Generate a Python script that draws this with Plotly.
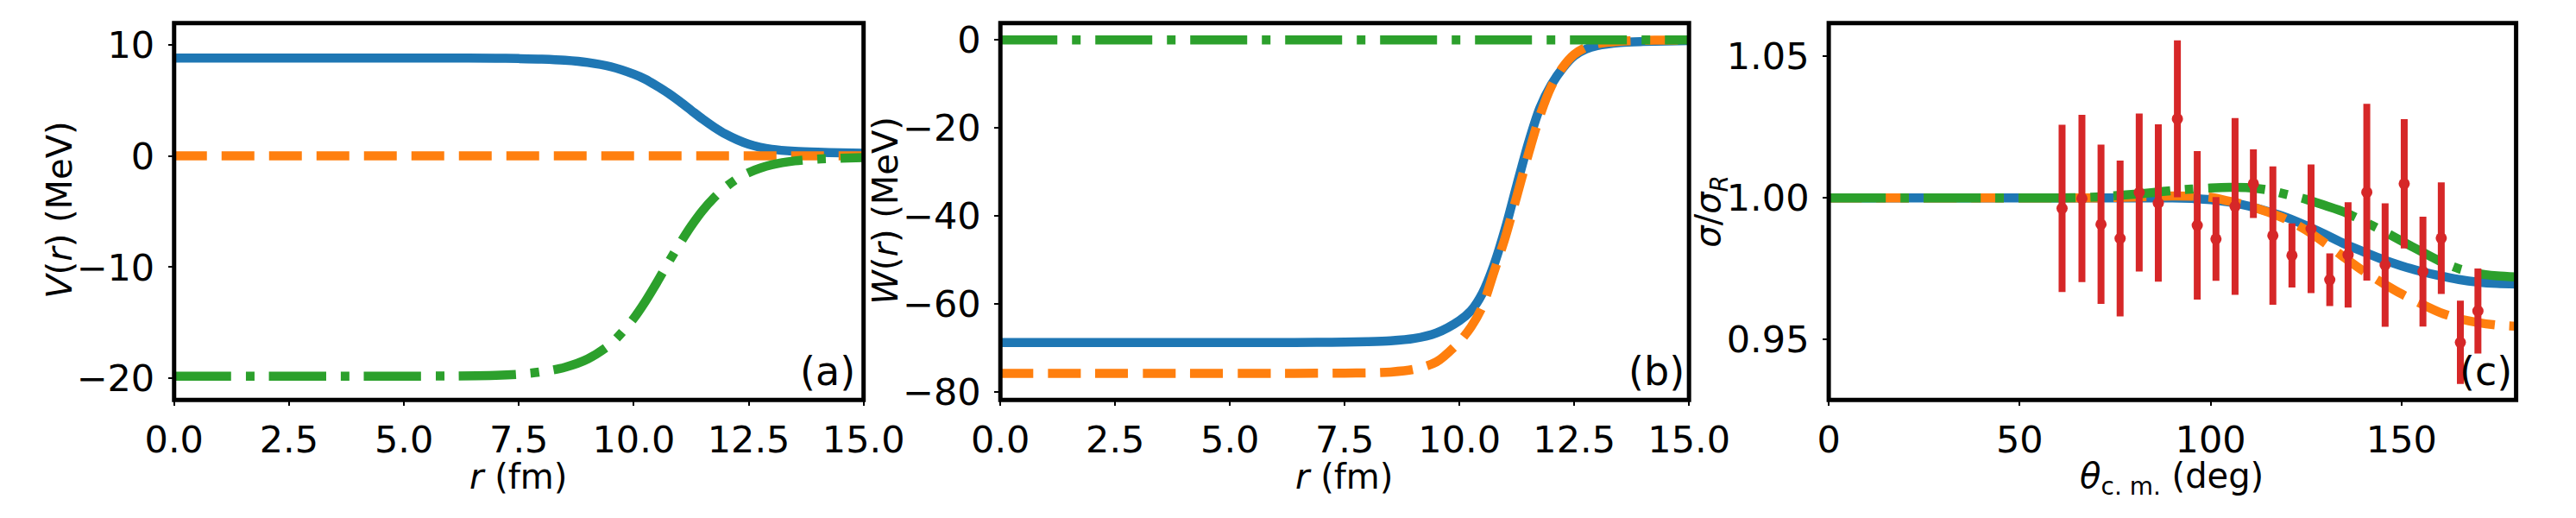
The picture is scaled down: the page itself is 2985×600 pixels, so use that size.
import plotly.graph_objects as go

# ---------------- data ----------------
r_grid = [0, 2, 4, 6, 7, 7.5, 8, 8.5, 9, 9.5, 10, 10.25, 10.5, 10.75, 11, 11.25,
          11.5, 11.75, 12, 12.25, 12.5, 12.75, 13, 13.5, 14, 14.5, 15]
r_flat = [0, 15]

# panel (a): V(r)
V_blue = [8.80, 8.80, 8.80, 8.80, 8.78, 8.75, 8.70, 8.60, 8.40, 8.02, 7.35, 6.90,
          6.30, 5.65, 4.90, 4.10, 3.30, 2.58, 1.95, 1.45, 1.05, 0.78, 0.60, 0.42,
          0.33, 0.28, 0.25]
V_orange = [0.0, 0.0]
V_green = [-19.80, -19.80, -19.80, -19.78, -19.72, -19.62, -19.40, -19.00, -18.25,
           -16.90, -14.60, -13.10, -11.40, -9.60, -7.90, -6.30, -4.90, -3.75, -2.80,
           -2.05, -1.50, -1.10, -0.80, -0.45, -0.28, -0.20, -0.15]

# panel (b): W(r)
W_blue = [-68.8, -68.8, -68.8, -68.8, -68.75, -68.7, -68.6, -68.4, -67.9, -66.6,
          -63.8, -61.6, -57.6, -51.2, -42.8, -33.0, -23.5, -15.5, -10.2, -6.4, -3.6,
          -2.1, -1.3, -0.6, -0.35, -0.22, -0.15]
W_orange = [-75.8, -75.8, -75.8, -75.8, -75.78, -75.75, -75.7, -75.5, -74.9, -73.2,
            -68.6, -65.3, -60.6, -52.8, -44.8, -35.5, -26.0, -17.3, -10.6, -6.2,
            -3.3, -1.7, -0.9, -0.3, -0.1, -0.05, 0.0]
W_green = [0.0, 0.0]

# panel (c): sigma / sigma_R
theta_grid = [0, 20, 40, 60, 70, 80, 85, 90, 95, 100, 105, 110, 115, 120, 125, 130,
              135, 140, 145, 150, 155, 160, 165, 170, 175, 180]
S_blue = [1.0, 1.0, 1.0, 1.0, 1.0, 1.0, 1.0, 1.0, 0.9998, 0.9994, 0.9985, 0.9971,
          0.9952, 0.9930, 0.9902, 0.9871, 0.9838, 0.9810, 0.9783, 0.9760, 0.9741,
          0.9725, 0.9712, 0.9703, 0.9698, 0.9696]
S_orange = [1.0, 1.0, 1.0, 1.0, 1.0, 1.0003, 1.0005, 1.0007, 1.0006, 1.0002, 0.9988,
            0.9972, 0.9950, 0.9923, 0.9886, 0.9840, 0.9790, 0.9742, 0.9700, 0.9661,
            0.9627, 0.9596, 0.9574, 0.9560, 0.9551, 0.9547]
S_green = [1.0, 1.0, 1.0, 1.0, 1.0003, 1.0013, 1.0019, 1.0026, 1.0031, 1.0035,
           1.0037, 1.0036, 1.0028, 1.0012, 0.9995, 0.9973, 0.9950, 0.9918, 0.9884,
           0.9848, 0.9812, 0.9777, 0.9750, 0.9733, 0.9725, 0.9721]

theta_exp = [61.1, 66.3, 71.3, 76.3, 81.3, 86.3, 91.3, 96.5, 101.4, 106.4, 111.2,
             116.3, 121.3, 126.3, 131.2, 136.0, 140.9, 145.7, 150.7, 155.6, 160.4,
             165.4, 170.0]
ratio_exp = [0.9963, 0.9998, 0.9907, 0.9857, 1.0019, 0.9982, 1.0279, 0.9903, 0.9855,
             0.9970, 1.0050, 0.9867, 0.9797, 0.9891, 0.9711, 0.9799, 1.0020, 0.9763,
             1.0050, 0.9740, 0.9858, 0.9490, 0.9601]
ratio_err = [0.0295, 0.0295, 0.0281, 0.0275, 0.0279, 0.0278, 0.0277, 0.0262, 0.0148,
             0.0312, 0.0121, 0.0244, 0.0113, 0.0227, 0.0093, 0.0186, 0.0312, 0.0218,
             0.0228, 0.0194, 0.0197, 0.0147, 0.0150]

# ---------------- styling ----------------
W, H = 2985, 600
BLUE, ORANGE, GREEN, RED = "#1f77b4", "#ff7f0e", "#2ca02c", "#d62728"
LW = 10.5
DASH = "38px,17px"
DASHDOT = "66px,17px,10px,17px"
FONT = "DejaVu Sans"
FS_TICK = 43
FS_TITLE = 40
FS_PANEL = 46

dom_x = [(172.5 / W, 994 / W), (1157 / W, 1977.5 / W), (2144 / W, 2963 / W)]
dom_y = (1 - 474 / H, 1 - 22.5 / H)

fig = go.Figure()


def line(x, y, color, dash, ax):
    fig.add_trace(go.Scatter(x=x, y=y, mode="lines",
                             line=dict(color=color, width=LW, dash=dash,
                                       shape="spline", smoothing=0.8),
                             xaxis="x" + ax, yaxis="y" + ax, showlegend=False,
                             hoverinfo="skip"))


line(r_grid, V_blue, BLUE, "solid", "")
line(r_flat, V_orange, ORANGE, DASH, "")
line(r_grid, V_green, GREEN, DASHDOT, "")

line(r_grid, W_blue, BLUE, "solid", "2")
line(r_grid, W_orange, ORANGE, DASH, "2")
line(r_flat, W_green, GREEN, DASHDOT, "2")

line(theta_grid, S_blue, BLUE, "solid", "3")
line(theta_grid, S_orange, ORANGE, DASH, "3")
line(theta_grid, S_green, GREEN, DASHDOT, "3")

fig.add_trace(go.Scatter(x=theta_exp, y=ratio_exp, mode="markers",
                         marker=dict(color=RED, size=13),
                         error_y=dict(type="data", array=ratio_err, color=RED,
                                      thickness=8, width=0),
                         xaxis="x3", yaxis="y3", showlegend=False))

tick_common = dict(ticks="outside", ticklen=6, tickwidth=1.5, tickcolor="black",
                   showgrid=False, zeroline=False, showline=False,
                   tickfont=dict(family=FONT, size=FS_TICK, color="black"))

fig.update_layout(
    width=W, height=H, margin=dict(l=0, r=0, t=0, b=0),
    paper_bgcolor="white", plot_bgcolor="white",
    font=dict(family=FONT, size=FS_TICK, color="black"),
    xaxis=dict(domain=dom_x[0], range=[0, 15], dtick=2.5, tick0=0, tickformat=".1f",
               anchor="y", ticklabelstandoff=2, **tick_common),
    yaxis=dict(domain=dom_y, range=[-21.93, 11.94], dtick=10, tick0=0,
               anchor="x", ticklabelstandoff=7, **tick_common),
    xaxis2=dict(domain=dom_x[1], range=[0, 15], dtick=2.5, tick0=0, tickformat=".1f",
                anchor="y2", ticklabelstandoff=2, **tick_common),
    yaxis2=dict(domain=dom_y, range=[-81.84, 3.83], dtick=20, tick0=0,
                anchor="x2", ticklabelstandoff=7, **tick_common),
    xaxis3=dict(domain=dom_x[2], range=[0, 180], dtick=50, tick0=0,
                anchor="y3", ticklabelstandoff=2, **tick_common),
    yaxis3=dict(domain=dom_y, range=[0.9287, 1.0617], dtick=0.05, tick0=0.95,
                tickformat=".2f", anchor="x3", ticklabelstandoff=7, **tick_common),
)

# frames
for ax in ["", "2", "3"]:
    fig.add_shape(type="rect", xref="x" + ax + " domain", yref="y" + ax + " domain",
                  x0=0, x1=1, y0=0, y1=1, line=dict(color="black", width=5),
                  fillcolor="rgba(0,0,0,0)", layer="above")


# axis titles
def ann(text, x, y, angle=0, size=FS_TITLE):
    fig.add_annotation(text=text, x=x, y=y, xref="paper", yref="paper",
                       xanchor="center", yanchor="middle", textangle=angle,
                       showarrow=False, font=dict(family=FONT, size=size, color="black"))


ann("<i>r</i> (fm)", 583 / W, 1 - 566 / H)
ann("<i>r</i> (fm)", 1567 / W, 1 - 566 / H)
ann("<i>θ</i><sub>c. m.</sub> (deg)", 2553 / W, 1 - 568 / H)
ann("<i>V</i>(<i>r</i>) (MeV)", 36 / W, 1 - 247 / H, angle=-90)
ann("<i>W</i>(<i>r</i>) (MeV)", 1020 / W, 1 - 247 / H, angle=-90)
ann("<i>σ</i>/<i>σ</i><sub><i>R</i></sub>", 2003 / W, 1 - 248 / H, angle=-90)

# panel labels
for lab, xr in [("(a)", 986), ("(b)", 1974), ("(c)", 2960)]:
    fig.add_annotation(text=lab, x=xr / W, y=1 - 440 / H, xref="paper", yref="paper",
                       xanchor="right", yanchor="middle", showarrow=False,
                       font=dict(family=FONT, size=FS_PANEL, color="black"))

fig.write_html("out.html")
